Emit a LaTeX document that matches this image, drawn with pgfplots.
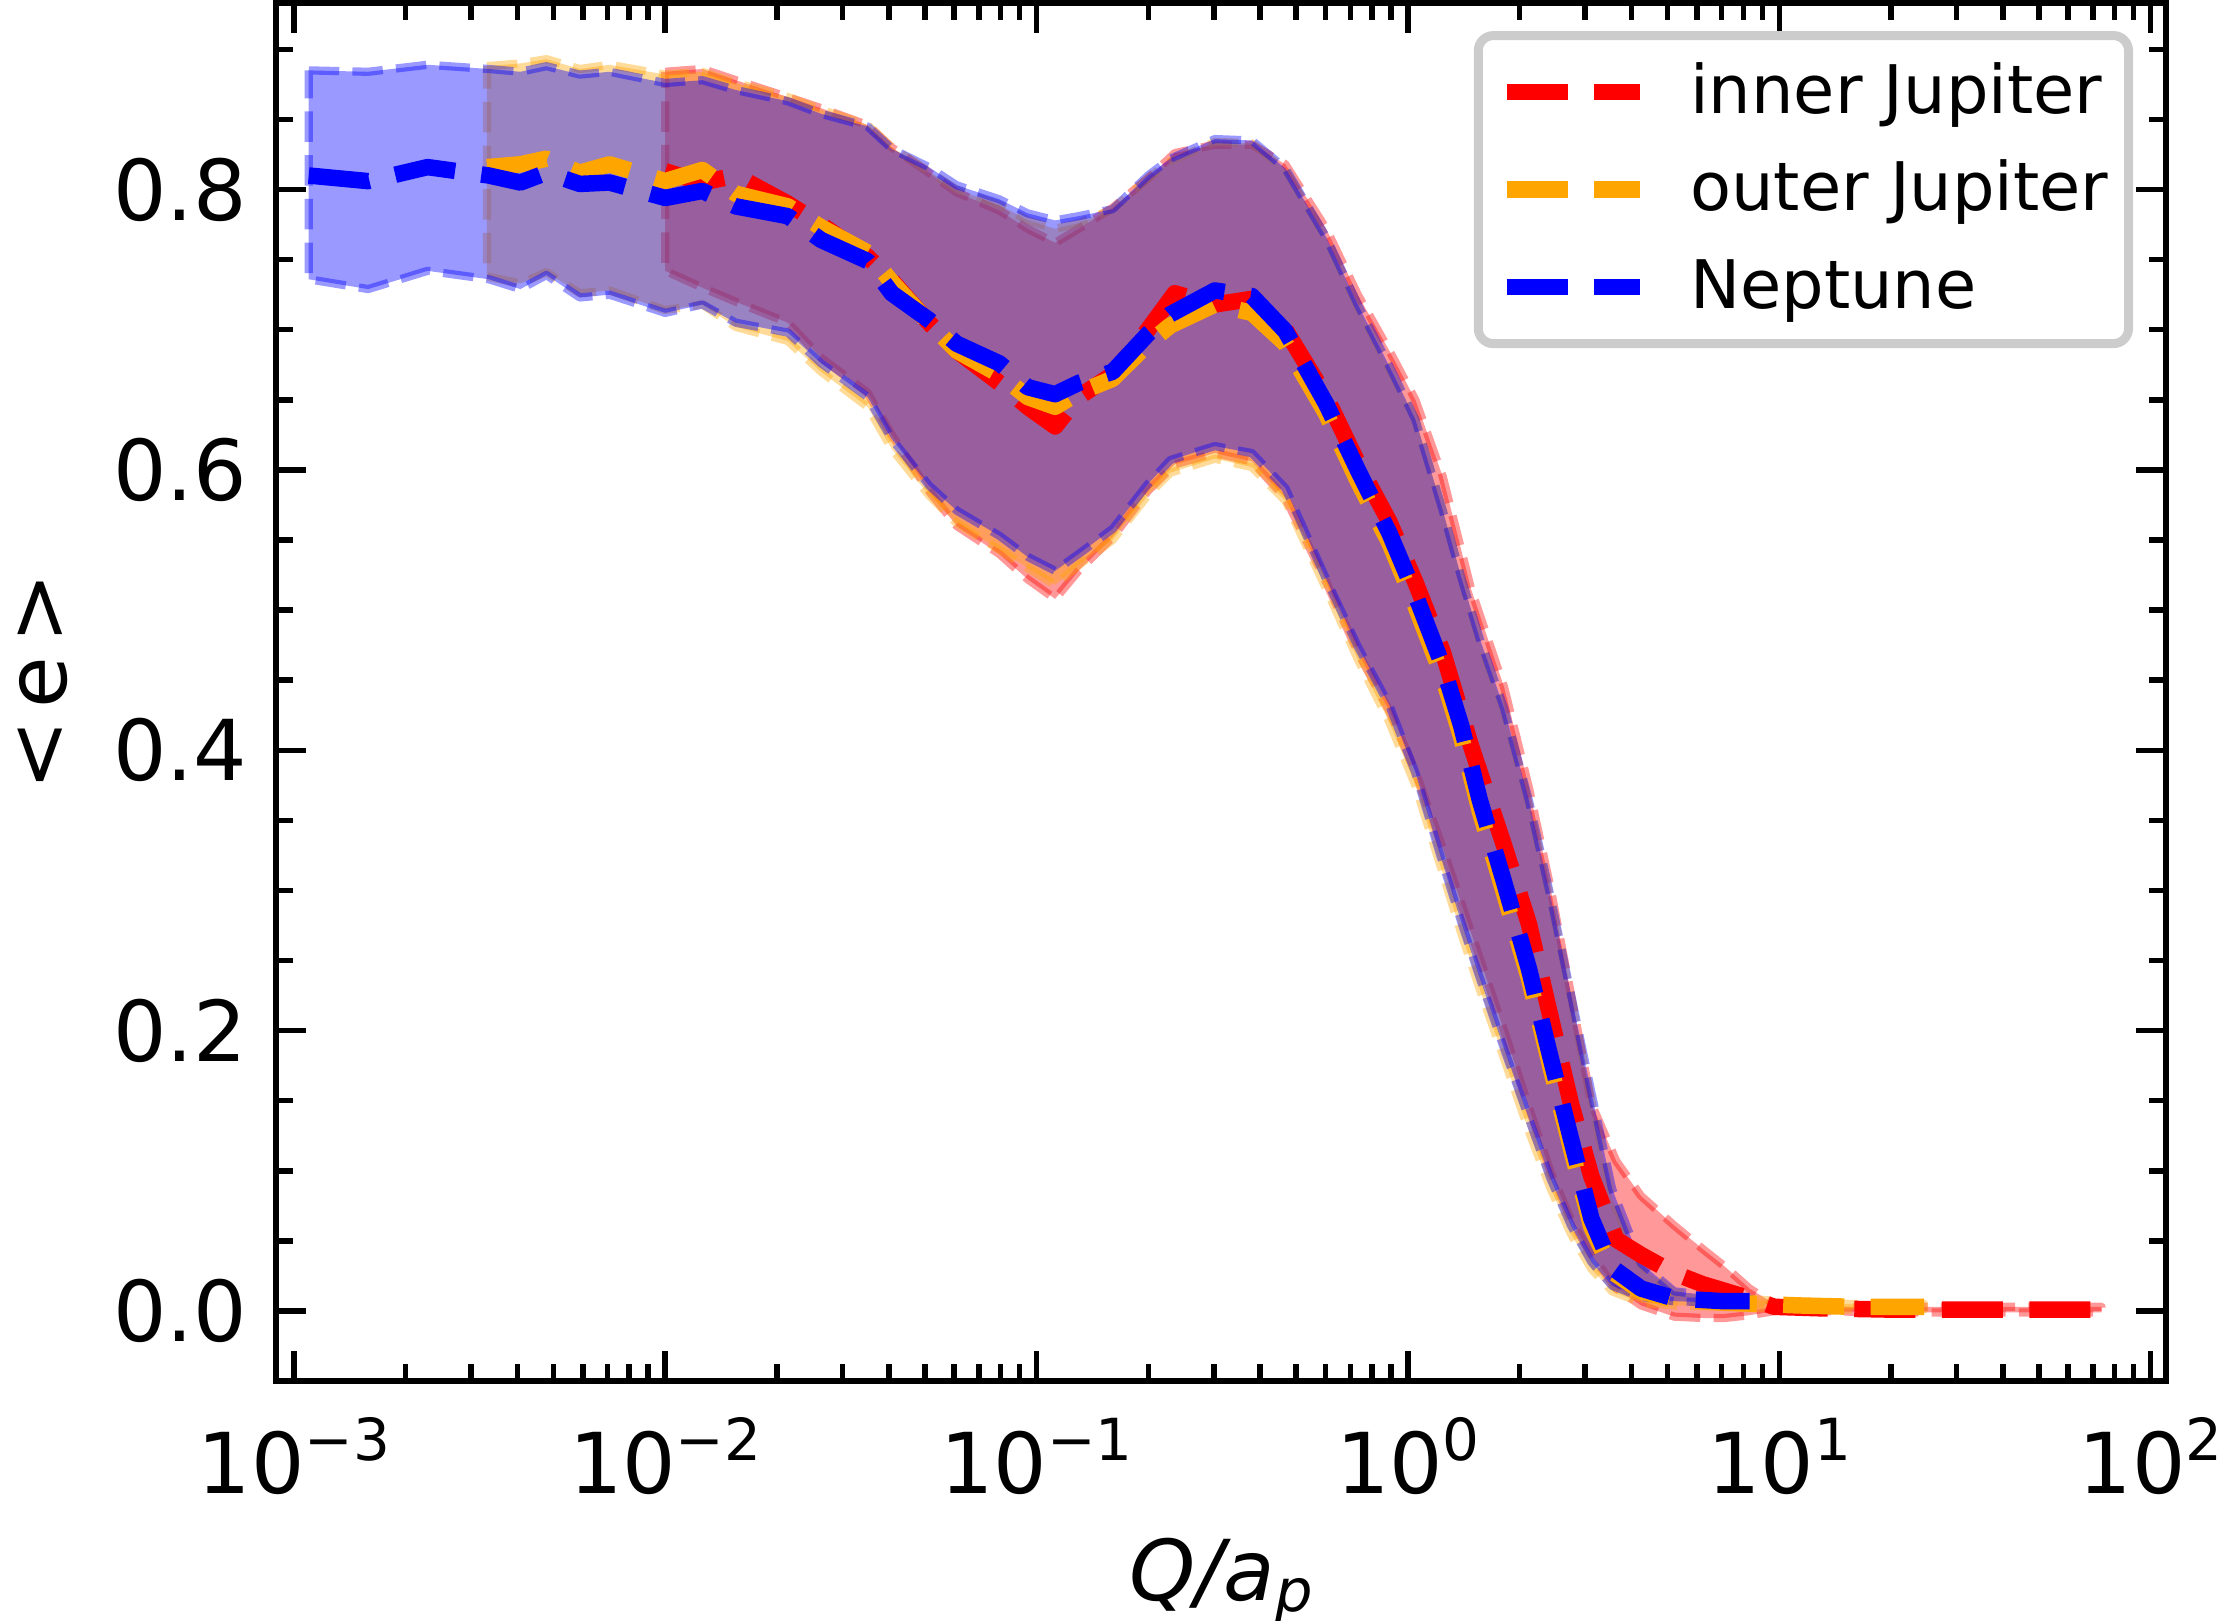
\documentclass[border=0pt]{standalone}
\usepackage{fontspec}
\setmainfont{DejaVu Sans}
\usepackage{pgfplots}
\pgfplotsset{compat=1.18}
\usepackage{pgfplotstable}
\definecolor{mred}{rgb}{1,0,0}
\definecolor{morange}{rgb}{1,0.647,0}
\definecolor{mblue}{rgb}{0,0,1}
\definecolor{legframe}{rgb}{0.8,0.8,0.8}
\newcommand{\sexp}[1]{\raisebox{6.6pt}{\fontsize{11.6}{12}\selectfont #1}}

% Neptune: mean
\pgfplotstableread{
x m
1.0965e-3 0.810
1.585e-3 0.806
2.291e-3 0.816
3.35e-3 0.810
4.074e-3 0.805
4.786e-3 0.812
5.888e-3 0.804
7.079e-3 0.805
0.01 0.794
0.012589 0.799
0.015488 0.788
0.021380 0.781
0.026303 0.764
0.035075 0.749
0.040738 0.726
0.051286 0.707
0.060954 0.690
0.079433 0.676
0.094624 0.659
0.112202 0.654
0.129718 0.662
0.160325 0.670
0.199526 0.697
0.229087 0.711
0.301995 0.728
0.380189 0.724
0.467735 0.699
0.602560 0.647
0.732825 0.600
0.891251 0.555
1.047129 0.511
1.241652 0.460
1.389953 0.418
1.559553 0.365
1.815516 0.306
2.118361 0.244
2.415461 0.182
2.747894 0.123
3.118890 0.066
3.548134 0.031
4.246196 0.016
5.211947 0.009
7.112135 0.007
8.317638 0.007
}\tblue
% Neptune: band (upper left->right, lower right->left)
\pgfplotstableread{
x y
1.0965e-3 0.885
1.585e-3 0.884
2.291e-3 0.889
3.35e-3 0.886
4.074e-3 0.884
4.786e-3 0.888
5.888e-3 0.882
7.079e-3 0.884
0.01 0.876
0.012589 0.878
0.015488 0.871
0.021380 0.863
0.026303 0.854
0.035075 0.845
0.040738 0.829
0.051286 0.816
0.060954 0.803
0.079433 0.793
0.094624 0.783
0.112202 0.778
0.129718 0.781
0.160325 0.786
0.199526 0.810
0.229087 0.822
0.301995 0.836
0.380189 0.835
0.467735 0.815
0.602560 0.766
0.732825 0.718
0.891251 0.674
1.047129 0.636
1.241652 0.571
1.389953 0.524
1.559553 0.480
1.815516 0.430
2.118361 0.364
2.415461 0.297
2.747894 0.226
3.118890 0.156
3.548134 0.087
4.246196 0.034
5.211947 0.014
7.112135 0.010
8.317638 0.009
8.317638 0.006
7.112135 0.006
5.211947 0.007
4.246196 0.010
3.548134 0.018
3.118890 0.035
2.747894 0.061
2.415461 0.095
2.118361 0.137
1.815516 0.187
1.559553 0.238
1.389953 0.278
1.241652 0.319
1.047129 0.384
0.891251 0.432
0.732825 0.474
0.602560 0.522
0.467735 0.587
0.380189 0.612
0.301995 0.617
0.229087 0.607
0.199526 0.590
0.160325 0.558
0.129718 0.540
0.112202 0.528
0.094624 0.538
0.079433 0.553
0.060954 0.571
0.051286 0.589
0.040738 0.622
0.035075 0.652
0.026303 0.676
0.021380 0.698
0.015488 0.705
0.012589 0.718
0.01 0.712
7.079e-3 0.725
5.888e-3 0.723
4.786e-3 0.739
4.074e-3 0.729
3.35e-3 0.736
2.291e-3 0.742
1.585e-3 0.729
1.0965e-3 0.736
}\tbluepoly

% outer Jupiter: mean
\pgfplotstableread{
x m
3.311e-3 0.816
4.074e-3 0.818
4.786e-3 0.822
5.888e-3 0.812
7.079e-3 0.818
0.01 0.806
0.012589 0.814
0.015488 0.797
0.021380 0.788
0.026303 0.773
0.035075 0.755
0.040738 0.734
0.051286 0.705
0.060954 0.685
0.079433 0.668
0.094624 0.652
0.112202 0.645
0.129718 0.655
0.160325 0.665
0.199526 0.690
0.229087 0.703
0.301995 0.718
0.380189 0.712
0.467735 0.690
0.602560 0.640
0.732825 0.592
0.891251 0.548
1.047129 0.503
1.241652 0.452
1.389953 0.410
1.559553 0.357
1.815516 0.298
2.118361 0.237
2.415461 0.175
2.747894 0.116
3.118890 0.060
3.548134 0.028
4.246196 0.014
5.211947 0.008
7.112135 0.006
8.912509 0.005
11.220185 0.004
15.848932 0.003
24.547089 0.003
}\torange
% outer Jupiter: band
\pgfplotstableread{
x y
3.311e-3 0.888
4.074e-3 0.890
4.786e-3 0.893
5.888e-3 0.886
7.079e-3 0.889
0.01 0.882
0.012589 0.884
0.015488 0.876
0.021380 0.866
0.026303 0.857
0.035075 0.846
0.040738 0.830
0.051286 0.813
0.060954 0.800
0.079433 0.789
0.094624 0.778
0.112202 0.772
0.129718 0.776
0.160325 0.786
0.199526 0.808
0.229087 0.820
0.301995 0.834
0.380189 0.833
0.467735 0.814
0.602560 0.765
0.732825 0.716
0.891251 0.672
1.047129 0.636
1.241652 0.571
1.389953 0.524
1.559553 0.478
1.815516 0.428
2.118361 0.362
2.415461 0.295
2.747894 0.224
3.118890 0.150
3.548134 0.080
4.246196 0.032
5.211947 0.013
7.112135 0.010
8.912509 0.008
11.220185 0.006
15.848932 0.005
24.547089 0.005
24.547089 0.001
15.848932 0.001
11.220185 0.002
8.912509 0.002
7.112135 0.003
5.211947 0.004
4.246196 0.006
3.548134 0.014
3.118890 0.030
2.747894 0.055
2.415461 0.088
2.118361 0.128
1.815516 0.180
1.559553 0.230
1.389953 0.270
1.241652 0.312
1.047129 0.375
0.891251 0.420
0.732825 0.465
0.602560 0.515
0.467735 0.578
0.380189 0.602
0.301995 0.608
0.229087 0.598
0.199526 0.582
0.160325 0.550
0.129718 0.532
0.112202 0.518
0.094624 0.530
0.079433 0.543
0.060954 0.562
0.051286 0.582
0.040738 0.615
0.035075 0.645
0.026303 0.670
0.021380 0.692
0.015488 0.702
0.012589 0.718
0.01 0.714
7.079e-3 0.728
5.888e-3 0.726
4.786e-3 0.741
4.074e-3 0.733
3.311e-3 0.738
}\torangepoly

% inner Jupiter: mean
\pgfplotstableread{
x m
0.01 0.813
0.012589 0.805
0.015488 0.810
0.021380 0.790
0.026303 0.775
0.035075 0.752
0.040738 0.735
0.051286 0.705
0.060954 0.685
0.079433 0.662
0.094624 0.645
0.112202 0.631
0.129718 0.652
0.160325 0.668
0.199526 0.700
0.235505 0.726
0.301995 0.718
0.380189 0.722
0.467735 0.700
0.602560 0.652
0.732825 0.605
0.891251 0.563
1.047129 0.520
1.241652 0.470
1.479108 0.403
1.815516 0.332
2.118361 0.276
2.415461 0.211
2.747894 0.148
3.118890 0.096
3.639150 0.051
4.246196 0.040
5.211947 0.027
6.237348 0.019
7.112135 0.0145
8.317638 0.009
9.705100 0.003
12.589254 0.002
19.952623 0.001
31.622777 0.001
50.118723 0.001
73.790423 0.001
}\tred
% inner Jupiter: band
\pgfplotstableread{
x y
0.01 0.884
0.012589 0.886
0.015488 0.878
0.021380 0.866
0.026303 0.858
0.035075 0.846
0.040738 0.830
0.051286 0.812
0.060954 0.798
0.079433 0.785
0.094624 0.772
0.112202 0.762
0.129718 0.772
0.160325 0.787
0.199526 0.808
0.235505 0.826
0.301995 0.832
0.380189 0.832
0.467735 0.818
0.602560 0.772
0.732825 0.725
0.891251 0.685
1.047129 0.650
1.241652 0.595
1.479108 0.515
1.815516 0.445
2.118361 0.373
2.415461 0.303
2.747894 0.226
3.118890 0.148
3.639150 0.107
4.246196 0.082
5.211947 0.061
6.237348 0.044
7.112135 0.032
8.317638 0.016
9.705100 0.005
12.589254 0.003
19.952623 0.003
31.622777 0.003
50.118723 0.003
73.790423 0.003
73.790423 -0.001
50.118723 -0.001
31.622777 -0.001
19.952623 -0.001
12.589254 0.000
9.705100 0.000
8.317638 -0.003
7.112135 -0.005
6.237348 -0.005
5.211947 -0.004
4.246196 0.004
3.639150 0.016
3.118890 0.040
2.747894 0.065
2.415461 0.100
2.118361 0.145
1.815516 0.200
1.479108 0.270
1.241652 0.330
1.047129 0.385
0.891251 0.428
0.732825 0.470
0.602560 0.520
0.467735 0.580
0.380189 0.606
0.301995 0.612
0.235505 0.604
0.199526 0.585
0.160325 0.552
0.129718 0.528
0.112202 0.508
0.094624 0.522
0.079433 0.540
0.060954 0.560
0.051286 0.585
0.040738 0.625
0.035075 0.655
0.026303 0.680
0.021380 0.705
0.015488 0.720
0.012589 0.730
0.01 0.742
}\tredpoly

\pgfplotsset{
  band/.style={line width=1.65pt, dash pattern=on 6.1pt off 2.64pt, draw opacity=0.4, fill opacity=0.4, forget plot, line join=round},
  mline/.style={line width=3.3pt, dash pattern=on 12.2pt off 5.3pt, line join=round},
}

\begin{document}
\begin{tikzpicture}
\begin{axis}[
  at={(0,0)}, anchor=south west,
  scale only axis, width=378pt, height=275.6pt,
  xmode=log, xmin=8.95e-4, xmax=110, ymin=-0.05, ymax=0.933,
  axis line style={line width=1.25pt},
  tick align=inside, tick pos=both,
  major tick length=6pt, minor tick length=3.4pt,
  tick style={black, line width=1.1pt},
  xtick={1e-3,1e-2,1e-1,1,10,100},
  xticklabels={10\sexp{−3},10\sexp{−2},10\sexp{−1},10\sexp{0},10\sexp{1},10\sexp{2}},
  minor xtick={2e-3,3e-3,4e-3,5e-3,6e-3,7e-3,8e-3,9e-3,2e-2,3e-2,4e-2,5e-2,6e-2,7e-2,8e-2,9e-2,0.2,0.3,0.4,0.5,0.6,0.7,0.8,0.9,2,3,4,5,6,7,8,9,20,30,40,50,60,70,80,90},
  ytick={0,0.2,0.4,0.6,0.8},
  yticklabels={0.0,0.2,0.4,0.6,0.8},
  minor ytick={0.05,0.1,0.15,0.25,0.3,0.35,0.45,0.5,0.55,0.65,0.7,0.75,0.85,0.9},
  tick label style={font=\fontsize{16.8}{20}\selectfont, overlay},
  xticklabel style={yshift=-3.8pt},
  yticklabel style={xshift=-2.3pt},
  xlabel={\itshape Q/a\raisebox{-2.2pt}{\fontsize{11.8}{12}\selectfont p}},
  xlabel style={at={([yshift=-43.8pt]axis description cs:0.5,0)}, anchor=base, font=\fontsize{16.8}{20}\selectfont, overlay},
  ylabel={<\kern2.5pt e\kern2.5pt>},
  ylabel style={at={([xshift=-46.6pt, yshift=2pt]axis description cs:0,0.5)}, anchor=center, font=\fontsize{16.8}{20}\selectfont, overlay},
  legend cell align=left,
  legend image code/.code={\draw[#1] (0pt,0pt) -- (26.6pt,0pt); \path (35.1pt,0pt);},
  legend style={at={(1,1)}, anchor=north east, xshift=-6.6pt, yshift=-5.6pt,
    draw=legframe, line width=1.8pt, rounded corners=3pt, fill=white,
    font=\fontsize{13.4}{16}\selectfont,
    inner xsep=4pt, inner ysep=4.4pt, row sep=5.7pt,
    nodes={inner sep=0pt, text height=11.1pt, text depth=2.7pt}},
]
\addplot[band, fill=mred, draw=mred] table[x=x,y=y]{\tredpoly} -- cycle;
\addplot[band, fill=morange, draw=morange] table[x=x,y=y]{\torangepoly} -- cycle;
\addplot[band, fill=mblue, draw=mblue] table[x=x,y=y]{\tbluepoly} -- cycle;
\addplot[mline, mred] table[x=x,y=m]{\tred};
\addlegendentry{inner Jupiter}
\addplot[mline, morange] table[x=x,y=m]{\torange};
\addlegendentry{outer Jupiter}
\addplot[mline, mblue] table[x=x,y=m]{\tblue};
\addlegendentry{Neptune}
\end{axis}
\path[use as bounding box] (-55.2pt,-47.8pt) rectangle (388.6pt,276.2pt);
\end{tikzpicture}
\end{document}
